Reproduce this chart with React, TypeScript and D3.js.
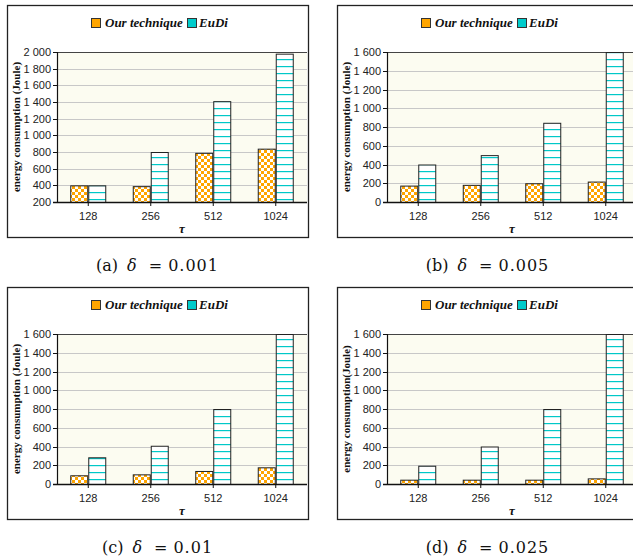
import React from "react";
import * as d3 from "d3";

const categories = ["128", "256", "512", "1024"];
const seriesNames = ["Our technique", "EuDi"];

const oursA = [400, 390, 790, 840];
const eudiA = [400, 800, 1410, 1980];
const oursB = [175, 183, 200, 218];
const eudiB = [400, 500, 845, 1600];
const oursC = [93, 103, 139, 178];
const eudiC = [285, 408, 800, 1600];
const oursD = [46, 46, 46, 60];
const eudiD = [195, 400, 800, 1600];

const ticksA = [200, 400, 600, 800, 1000, 1200, 1400, 1600, 1800, 2000];
const ticksB = [0, 200, 400, 600, 800, 1000, 1200, 1400, 1600];

const captionLabels = ["(a)", "(b)", "(c)", "(d)"];
const captionValues = ["0.001", "0.005", "0.01", "0.025"];
const yLabels = [
  "energy consumption (Joule)",
  "energy consumption (Joule)",
  "energy consumption (Joule)",
  "energy consumption(Joule)",
];

const ORANGE = "#FFA500";
const CYAN = "#00C8C8";

const fmt = d3
  .formatLocale({ thousands: "\u00a0", grouping: [3], decimal: ".", currency: ["", ""] })
  .format(",");

type PanelProps = {
  idx: number;
  x0: number;
  y0: number;
  ticks: number[];
  ours: number[];
  eudi: number[];
};

function Panel({ idx, x0, y0, ticks, ours, eudi }: PanelProps) {
  const W = 301;
  const H = 232;
  const left = x0 + 50;
  const right = x0 + 300;
  const top = y0 + 47;
  const bottom = y0 + 197;
  const y = d3.scaleLinear().domain([ticks[0], ticks[ticks.length - 1]]).range([bottom, top]);
  const x = d3.scaleBand().domain(categories).range([left, right]).paddingInner(0.424).paddingOuter(0.212);
  const xs = d3.scaleBand().domain(seriesNames).range([0, x.bandwidth()]);
  const series = [ours, eudi];
  const fills = ["url(#checker)", "url(#hlines)"];
  const clipId = `clip${idx}`;
  const cx = x0 + W / 2;
  const sansFont = "'Liberation Sans', Arial, sans-serif";
  const serifFont = "'Liberation Serif', 'Times New Roman', serif";
  return (
    <g>
      <defs>
        <clipPath id={clipId}>
          <rect x={left} y={top} width={right - left} height={bottom - top} />
        </clipPath>
      </defs>
      <rect x={x0 + 0.5} y={y0 + 0.5} width={W} height={H} fill="#fff" stroke="#222" strokeWidth={1.3} />
      {/* legend */}
      <rect x={x0 + 84.5} y={y0 + 13.5} width={9} height={9} fill={ORANGE} stroke="#333" strokeWidth={1} />
      <text x={x0 + 98} y={y0 + 22} fontFamily={serifFont} fontWeight="bold" fontStyle="italic" fontSize={13} fill="#111">
        {seriesNames[0]}
      </text>
      <rect x={x0 + 180.5} y={y0 + 13.5} width={9} height={9} fill="#00CCCC" stroke="#333" strokeWidth={1} />
      <text x={x0 + 192} y={y0 + 22} fontFamily={serifFont} fontWeight="bold" fontStyle="italic" fontSize={13} fill="#111">
        {seriesNames[1]}
      </text>
      {/* plot area */}
      <rect x={left} y={top} width={right - left} height={bottom - top} fill="#FCFCF1" />
      {ticks.slice(1, -1).map((t) => (
        <line key={t} x1={left} x2={right} y1={Math.round(y(t)) + 0.5} y2={Math.round(y(t)) + 0.5} stroke="#C8C8C8" strokeWidth={1} />
      ))}
      <line x1={left} x2={right} y1={top + 0.5} y2={top + 0.5} stroke="#444" strokeWidth={1} />
      {/* bars */}
      <g clipPath={`url(#${clipId})`}>
        {categories.map((c, i) =>
          seriesNames.map((s, j) => {
            const v = series[j][i];
            const yt = y(Math.min(v, ticks[ticks.length - 1]));
            const xb = (x(c) as number) + (xs(s) as number);
            return (
              <rect
                key={c + s}
                x={xb + 0.5}
                y={yt + 0.5}
                width={xs.bandwidth() - 1}
                height={bottom - yt}
                fill={fills[j]}
                stroke="#222"
                strokeWidth={1}
              />
            );
          })
        )}
      </g>
      {/* axes */}
      <line x1={left + 0.5} x2={left + 0.5} y1={top} y2={bottom} stroke="#111" strokeWidth={1.2} />
      <line x1={left - 4} x2={right} y1={bottom + 0.5} y2={bottom + 0.5} stroke="#111" strokeWidth={1.3} />
      {ticks.map((t) => (
        <g key={t}>
          <line x1={left - 4} x2={left} y1={Math.round(y(t)) + 0.5} y2={Math.round(y(t)) + 0.5} stroke="#111" strokeWidth={1} />
          <text x={left - 6} y={y(t) + 4} textAnchor="end" fontFamily={sansFont} fontSize={11} fill="#222">
            {fmt(t)}
          </text>
        </g>
      ))}
      {categories.map((c) => {
        const xc = (x(c) as number) + x.bandwidth() / 2;
        return (
          <g key={c}>
            <line x1={xc} x2={xc} y1={bottom} y2={bottom + 4} stroke="#111" strokeWidth={1} />
            <text x={xc} y={bottom + 17.5} textAnchor="middle" fontFamily={sansFont} fontSize={11} fill="#222">
              {c}
            </text>
          </g>
        );
      })}
      <text x={(left + right) / 2} y={bottom + 31} textAnchor="middle" fontFamily={serifFont} fontWeight="bold" fontStyle="italic" fontSize={13} fill="#111">
        τ
      </text>
      <text
        transform={`translate(${x0 + 12.5},${(top + bottom) / 2}) rotate(-90)`}
        textAnchor="middle"
        fontFamily={serifFont}
        fontWeight="bold"
        fontSize={11}
        fill="#111"
      >
        {yLabels[idx]}
      </text>
      {/* caption */}
      <text x={cx} y={y0 + 265.5} textAnchor="middle" fontFamily="'DejaVu Serif', serif" fontSize={16} fill="#111">
        <tspan>{captionLabels[idx]}</tspan>
        <tspan dx={9} fontStyle="italic">δ</tspan>
        <tspan dx={12}>=</tspan>
        <tspan dx={6} letterSpacing={1}>{captionValues[idx]}</tspan>
      </text>
    </g>
  );
}

export default function App() {
  return (
    <svg
      width={633}
      height={558}
      viewBox="0 0 633 558"
      style={{ position: "absolute", left: 0, top: 0, background: "#fff" }}
    >
      <defs>
        <pattern id="checker" patternUnits="userSpaceOnUse" width={6} height={6}>
          <rect width={6} height={6} fill="#ffffff" />
          <rect width={3} height={3} fill={ORANGE} />
          <rect x={3} y={3} width={3} height={3} fill={ORANGE} />
        </pattern>
        <pattern id="hlines" patternUnits="userSpaceOnUse" width={7} height={7}>
          <rect width={7} height={7} fill="#ffffff" />
          <rect y={3} width={7} height={1.2} fill={CYAN} />
        </pattern>
      </defs>
      <Panel idx={0} x0={7} y0={5} ticks={ticksA} ours={oursA} eudi={eudiA} />
      <Panel idx={1} x0={337} y0={5} ticks={ticksB} ours={oursB} eudi={eudiB} />
      <Panel idx={2} x0={7} y0={287} ticks={ticksB} ours={oursC} eudi={eudiC} />
      <Panel idx={3} x0={337} y0={287} ticks={ticksB} ours={oursD} eudi={eudiD} />
    </svg>
  );
}
